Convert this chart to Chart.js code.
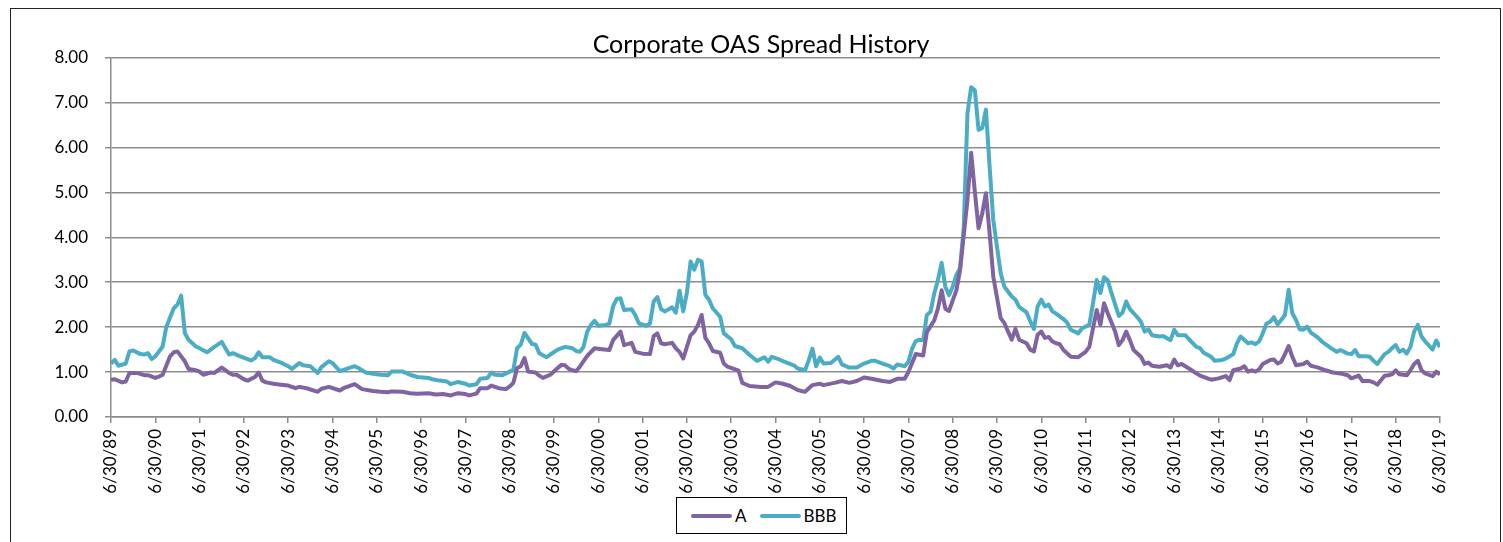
<!DOCTYPE html>
<html>
<head>
<meta charset="utf-8">
<script src="https://cdn.jsdelivr.net/npm/chart.js@4.4.1/dist/chart.umd.min.js"></script>
<style>
  body { margin: 0; background: #fff; width: 1503px; height: 542px; overflow: hidden; position: relative; font-family: Lato, sans-serif; }
  #frame { position: absolute; left: 10px; top: 8px; width: 1489px; height: 560px; border: 1px solid #222; }
  #chart { position: absolute; left: 0; top: 0; }
  #title { position: absolute; left: 761px; top: 28px; transform: translateX(-50%); white-space: nowrap;
           font-size: 25px; line-height: 30px; color: #000; }
  #legend { position: absolute; left: 676px; top: 497px; width: 169px; height: 35px; border: 1px solid #000; background: #fff;
            display: flex; align-items: center; font-size: 17px; color: #000; }
  .swatch { display: inline-block; width: 41px; height: 4px; border-radius: 2px; margin-right: 3px; }
  .item { display: flex; align-items: center; }
</style>
</head>
<body>
<div id="frame"></div>
<canvas id="chart" width="1503" height="542"></canvas>
<div id="title"></div>
<div id="legend"></div>
<script>
// month index counted from 6/30/89 (0) to 6/30/19 (360)
const chartTitle = 'Corporate OAS Spread History';
const tickLabels = ['6/30/89','6/30/90','6/30/91','6/30/92','6/30/93','6/30/94','6/30/95','6/30/96','6/30/97','6/30/98',
  '6/30/99','6/30/00','6/30/01','6/30/02','6/30/03','6/30/04','6/30/05','6/30/06','6/30/07','6/30/08',
  '6/30/09','6/30/10','6/30/11','6/30/12','6/30/13','6/30/14','6/30/15','6/30/16','6/30/17','6/30/18','6/30/19'];

const aMonths = [0,1,3,4,5,7,9,10,12,13,14,16,17,18,20,21,23,24,25,27,28,30,32,33,34,36,37,39,40,41,42,44,46,48,50,51,53,56,57,59,
  62,63,66,68,71,73,75,76,79,81,83,86,88,90,92,94,96,97,99,100,102,103,105,107,108,109,110,111,112,113,115,116,117,119,
  121,122,123,124,125,126,127,129,131,133,135,136,138,139,141,142,144,146,147,148,149,150,152,153,154,155,157,158,159,160,
  161,162,163,165,166,167,170,171,173,176,178,180,182,184,186,188,190,192,193,196,198,200,202,204,206,209,211,213,215,216,
  218,220,221,223,224,225,226,227,229,230,232,233,234,235,236,237,238,239,241,242,243,244,245,246,247,248,249,250,251,252,
  253,254,255,256,257,258,260,262,264,265,267,268,269,270,272,273,274,275,276,277,279,280,281,282,284,286,287,288,289,290,
  292,294,295,297,298,300,302,303,304,306,307,308,309,310,311,312,314,315,316,317,318,319,320,321,323,324,325,326,327,329,
  331,333,335,336,338,339,341,342,343,345,346,347,348,349,351,352,353,354,355,356,358,359,360];
const aValues = [0.83,0.84,0.77,0.79,0.98,0.98,0.93,0.93,0.87,0.90,0.94,1.35,1.44,1.46,1.24,1.07,1.04,1.01,0.94,0.99,0.98,1.10,0.98,0.94,0.94,0.84,0.81,0.89,0.99,0.81,0.77,0.74,0.72,0.70,0.64,0.67,0.64,0.56,0.63,0.67,
  0.59,0.64,0.73,0.62,0.58,0.56,0.55,0.57,0.56,0.53,0.52,0.53,0.50,0.51,0.48,0.53,0.51,0.48,0.52,0.64,0.64,0.70,0.64,0.62,0.68,0.76,1.09,1.13,1.31,1.01,0.99,0.92,0.87,0.94,
  1.09,1.16,1.15,1.07,1.04,1.02,1.12,1.36,1.53,1.51,1.49,1.71,1.90,1.60,1.65,1.45,1.41,1.40,1.80,1.86,1.64,1.62,1.65,1.53,1.45,1.30,1.82,1.90,2.05,2.27,
  1.76,1.64,1.47,1.43,1.19,1.12,1.03,0.76,0.69,0.67,0.67,0.77,0.74,0.69,0.60,0.56,0.71,0.74,0.71,0.76,0.80,0.76,0.80,0.88,0.85,0.80,0.78,0.85,0.85,1.00,
  1.40,1.37,1.89,2.15,2.41,2.82,2.41,2.36,2.82,3.27,4.83,5.88,5.01,4.20,4.53,4.98,4.09,3.12,2.20,2.09,1.90,1.72,1.96,1.72,1.68,1.64,1.50,1.46,1.83,1.90,
  1.76,1.78,1.68,1.64,1.62,1.49,1.34,1.33,1.45,1.56,2.38,2.05,2.53,2.31,1.90,1.60,1.71,1.90,1.71,1.49,1.34,1.18,1.21,1.14,1.12,1.15,1.10,1.28,1.15,1.18,
  1.08,0.97,0.92,0.86,0.83,0.86,0.91,0.82,1.04,1.08,1.13,1.01,1.04,1.01,1.06,1.18,1.27,1.28,1.19,1.23,1.40,1.58,1.34,1.15,1.18,1.23,1.14,1.12,1.10,1.04,
  0.99,0.97,0.93,0.86,0.92,0.80,0.80,0.77,0.72,0.92,0.93,0.95,1.04,0.95,0.93,1.04,1.18,1.25,1.04,0.97,0.91,1.01,0.95];

const bbbMonths = [0,1,2,4,5,6,8,9,10,11,12,14,15,17,18,19,20,21,23,24,26,27,28,30,32,33,35,37,38,39,40,41,43,44,46,48,49,51,52,54,56,57,59,
  60,62,63,66,67,69,71,73,75,76,79,81,83,86,87,89,91,92,94,96,97,99,100,102,103,104,106,108,109,110,111,112,114,115,116,118,119,
  121,123,125,126,127,128,129,130,131,132,134,135,136,137,138,139,141,142,143,145,146,147,148,149,150,152,153,154,155,156,157,158,159,160,
  161,162,163,165,166,168,169,171,173,175,177,178,179,181,183,185,186,188,189,190,191,192,193,195,197,198,200,202,204,206,207,209,211,212,213,215,216,
  217,218,219,220,221,222,223,224,225,226,227,228,229,230,231,232,233,234,235,236,237,238,239,240,241,242,244,245,246,247,248,249,250,
  251,252,253,254,255,256,257,258,259,260,262,263,265,266,267,268,269,270,271,273,274,275,276,278,279,280,281,282,284,285,287,288,289,291,292,294,295,296,298,299,
  301,302,304,305,306,308,309,310,311,312,313,314,315,316,317,318,319,320,321,322,323,324,325,326,327,328,330,332,333,335,336,337,338,340,
  341,342,343,345,346,347,348,349,350,351,352,353,354,355,356,358,359,360];
const bbbValues = [1.19,1.27,1.14,1.19,1.46,1.48,1.40,1.39,1.42,1.29,1.35,1.57,2.01,2.42,2.50,2.70,1.87,1.72,1.57,1.53,1.44,1.50,1.56,1.67,1.39,1.42,1.35,1.29,1.26,1.31,1.44,1.33,1.33,1.27,1.21,1.13,1.07,1.20,1.15,1.13,0.98,1.11,1.24,
  1.20,1.02,1.05,1.13,1.09,0.99,0.96,0.94,0.93,1.01,1.01,0.94,0.89,0.87,0.84,0.81,0.79,0.73,0.78,0.74,0.70,0.73,0.85,0.87,0.99,0.94,0.93,1.01,1.05,1.53,1.61,1.87,1.63,1.61,1.42,1.33,1.39,
  1.50,1.56,1.53,1.47,1.45,1.56,1.90,2.05,2.14,2.03,2.05,2.08,2.46,2.63,2.64,2.38,2.40,2.27,2.08,2.03,2.08,2.57,2.67,2.40,2.35,2.44,2.32,2.81,2.35,2.76,3.46,3.28,3.50,3.46,
  2.72,2.61,2.42,2.23,1.86,1.73,1.58,1.53,1.38,1.25,1.33,1.23,1.34,1.28,1.21,1.15,1.08,1.04,1.26,1.52,1.13,1.32,1.19,1.20,1.34,1.17,1.10,1.10,1.19,1.25,1.25,1.19,1.13,1.08,1.17,1.13,1.23,
  1.52,1.69,1.72,1.71,2.27,2.34,2.75,3.05,3.43,2.90,2.71,2.90,3.16,3.31,4.23,6.76,7.34,7.27,6.39,6.43,6.84,5.57,4.38,3.79,3.20,2.90,2.68,2.61,2.45,2.39,2.33,2.13,1.96,
  2.46,2.61,2.46,2.50,2.35,2.30,2.24,2.18,2.10,1.94,1.86,1.97,2.05,2.53,3.05,2.76,3.11,3.04,2.76,2.25,2.32,2.57,2.40,2.22,2.12,1.90,1.95,1.82,1.79,1.80,1.71,1.94,1.82,1.82,1.73,1.56,1.53,1.43,1.34,1.25,
  1.27,1.30,1.40,1.64,1.79,1.64,1.66,1.62,1.68,1.86,2.08,2.12,2.22,2.06,2.16,2.27,2.83,2.31,2.16,1.95,1.94,2.01,1.88,1.82,1.76,1.68,1.56,1.45,1.49,1.41,1.40,1.49,1.35,1.35,
  1.34,1.25,1.18,1.40,1.45,1.53,1.60,1.45,1.50,1.41,1.56,1.90,2.05,1.79,1.68,1.50,1.70,1.56];

const seriesNames = ['A', 'BBB'];
const seriesColors = ['#8064a2', '#4bacc6'];

const gridColor = '#8c8c8c';
const tickFont = { family: 'Lato', size: 17 };

function toPoints(months, values) {
  return months.map((m, i) => ({ x: m, y: values[i] }));
}

const datasets = [
  { label: seriesNames[0], data: toPoints(aMonths, aValues), borderColor: seriesColors[0] },
  { label: seriesNames[1], data: toPoints(bbbMonths, bbbValues), borderColor: seriesColors[1] }
].map(d => Object.assign(d, { borderWidth: 4, pointRadius: 0, tension: 0, fill: false, borderJoinStyle: 'round' }));

new Chart(document.getElementById('chart').getContext('2d'), {
  type: 'line',
  data: { datasets },
  options: {
    responsive: false,
    animation: false,
    layout: { padding: { left: 0, right: 63, top: 57.5, bottom: 0 } },
    plugins: {
      legend: { display: false },
      tooltip: { enabled: false },
      title: { display: false }
    },
    scales: {
      x: {
        type: 'linear', min: 0, max: 360,
        afterFit: s => { s.height = 125; },
        afterBuildTicks: s => { s.ticks = tickLabels.map((_, i) => ({ value: i * 12 })); },
        ticks: { autoSkip: false, minRotation: 90, maxRotation: 90, padding: 6, color: '#000', font: tickFont,
                 callback: v => tickLabels[Math.round(v / 12)] },
        grid: { drawOnChartArea: false, drawTicks: true, tickLength: 6, color: gridColor, lineWidth: 1.5 },
        border: { color: gridColor, width: 1.5 }
      },
      y: {
        min: 0, max: 8,
        afterFit: s => { s.width = 111; },
        ticks: { stepSize: 1, padding: 17, color: '#000', font: tickFont, callback: v => v.toFixed(2) },
        grid: { color: gridColor, lineWidth: 1.5, tickLength: 6 },
        border: { color: gridColor, width: 1.5 }
      }
    }
  }
});

document.getElementById('title').textContent = chartTitle;

// legend box under the axis labels
const legend = document.getElementById('legend');
seriesNames.forEach((name, i) => {
  const item = document.createElement('span');
  item.className = 'item';
  item.style.marginLeft = i === 0 ? '14px' : '13px';
  item.innerHTML = `<span class="swatch" style="background:${seriesColors[i]}"></span>${name}`;
  legend.appendChild(item);
});
</script>
</body>
</html>
